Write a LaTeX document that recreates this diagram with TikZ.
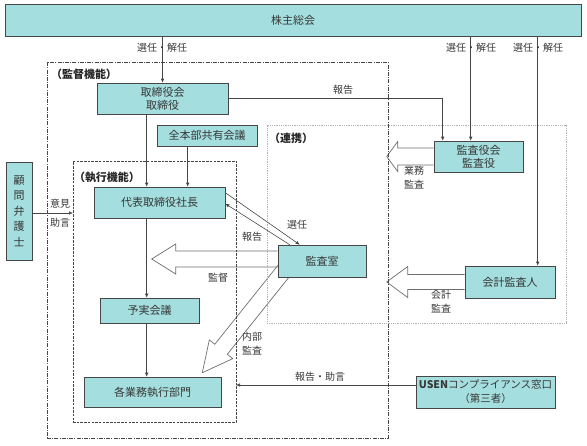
\documentclass[tikz,border=0pt]{standalone}
\usepackage{fontspec}
\setmainfont{Noto Sans CJK JP}
\usetikzlibrary{arrows.meta,calc,backgrounds}
\definecolor{boxfill}{RGB}{165,222,222}
\definecolor{txt}{RGB}{55,55,55}
\definecolor{edge}{RGB}{70,70,70}
\definecolor{hol}{RGB}{110,110,110}
\begin{document}
\begin{tikzpicture}[x=1pt,y=-1pt,
 box/.style={draw=edge,line width=0.6pt,fill=boxfill,text=txt,inner sep=0pt,align=center,font=\fontsize{11}{13}\selectfont},
 conn/.style={draw=edge,line width=0.6pt,-{Latex[length=4pt,width=3.6pt]}},
 lbl/.style={text=txt,inner sep=0pt,align=center,font=\fontsize{10}{14}\selectfont},
 ttl/.style={text=black!85,inner sep=0pt,font=\fontsize{11}{13}\selectfont\bfseries},
 hollow/.style={draw=hol,line width=0.7pt},
 frame/.style={inner sep=0pt,outer sep=0pt}
 ]
\useasboundingbox (0,0) rectangle (587,445);
% frames
\node[frame,draw=edge,line width=0.7pt,dash pattern=on 4pt off 1.2pt on 1pt off 1.2pt,minimum width=341pt,minimum height=376pt] (kantoku) at (217.5,250) {};
\node[frame,draw=edge,line width=0.8pt,dash pattern=on 2.5pt off 1.2pt,minimum width=163pt,minimum height=261pt] (shikko) at (154.5,291.5) {};
\node[frame,draw=gray!60,line width=0.8pt,densely dotted,minimum width=299pt,minimum height=198pt] (renkei) at (416.5,224) {};
\node[ttl] (tkantoku) at (84,74) {（監督機能）};
\node[ttl] (tshikko) at (107,177) {（執行機能）};
\node[ttl] (trenkei) at (291,138) {（連携）};
% boxes
\node[box,minimum width=576pt,minimum height=32pt] (kabunushi) at (293,20) {株主総会};
\node[box,minimum width=131pt,minimum height=31pt] (torishimari) at (162.5,98.5) {取締役会\\取締役};
\node[box,minimum width=100pt,minimum height=21pt] (zenhonbu) at (207,135.5) {全本部共有会議};
\node[box,minimum width=131pt,minimum height=31pt] (daihyo) at (159.5,202.5) {代表取締役社長};
\node[box,minimum width=26pt,minimum height=98pt,font=\fontsize{11}{15.5}\selectfont] (komon) at (19,211) {顧\\問\\弁\\護\\士};
\node[box,minimum width=89pt,minimum height=31pt] (kansayakukai) at (478.5,156.5) {監査役会\\監査役};
\node[box,minimum width=88pt,minimum height=32pt] (kansashitsu) at (322,261) {監査室};
\node[box,minimum width=90pt,minimum height=32pt] (kaikei) at (510,282) {会計監査人};
\node[box,minimum width=99pt,minimum height=25pt] (yojitsu) at (149.5,310.5) {予実会議};
\node[box,minimum width=137pt,minimum height=30pt] (kakugyomu) at (152.5,392) {各業務執行部門};
\node[box,minimum width=139pt,minimum height=32pt,font=\fontsize{10.5}{14}\selectfont] (usen) at (485.5,392) {\textbf{USEN}コンプライアンス窓口\\（第三者）};
% hollow arrows (behind boxes)
\begin{pgfonlayer}{background}
\draw[hollow] ($(kansayakukai.west)+(0,-8.5)$) -- ++(-36,0) -- ++(0,-6.5) -- ++(-11,15) -- ++(11,15) -- ++(0,-6.5) -- ++(36,0);
\draw[hollow] ($(kansashitsu.west)+(0,-10)$) -- ++(-102,0) -- ++(0,-7) -- ++(-24,15) -- ++(24,15) -- ++(0,-7) -- ++(102,0);
\draw[hollow] ($(kaikei.west)+(0,-7.5)$) -- ++(-57,0) -- ++(0,-8) -- ++(-21,15.5) -- ++(21,15.5) -- ++(0,-8) -- ++(57,0);
\coordinate (dtip) at ($(kakugyomu.north east)+(-19,-4)$);
\begin{scope}[shift={(dtip)},rotate=51.34]
\draw[hollow] (135,-8) -- (30,-8) -- (30,-15) -- (0,0) -- (30,15) -- (30,8) -- (135,8);
\end{scope}
\end{pgfonlayer}
% connectors
\draw[conn] (kabunushi.south -| torishimari.north) -- (torishimari.north);
\coordinate (kyin) at ($(kansayakukai.north west)+(37,0)$);
\draw[conn] (kabunushi.south -| kyin) -- (kyin);
\coordinate (kkin) at ($(kaikei.north west)+(73,0)$);
\draw[conn] (kabunushi.south -| kkin) -- (kkin);
\coordinate (kyrep) at ($(kansayakukai.north west)+(9,0)$);
\draw[conn] (torishimari.east) -- (torishimari.east -| kyrep) -- (kyrep);
\coordinate (t1) at ($(torishimari.south west)+(50,0)$);
\draw[conn] (t1) -- (t1 |- daihyo.north);
\coordinate (z1) at ($(zenhonbu.south west)+(31,0)$);
\draw[conn] (z1) -- (z1 |- daihyo.north);
\draw[conn] (t1 |- daihyo.south) -- (t1 |- yojitsu.north);
\draw[conn] (t1 |- yojitsu.south) -- (t1 |- kakugyomu.north);
\coordinate (k1) at ($(komon.east)+(0,2)$);
\draw[conn] (k1) -- (k1 -| shikko.west);
\coordinate (u1) at ($(usen.west)+(0,-7)$);
\draw[conn] (u1) -- (u1 -| shikko.east);
\draw[conn] ($(daihyo.north east)+(0,6)$) -- ($(kansashitsu.north west)+(22,0)$);
\draw[conn] ($(kansashitsu.north west)+(12,0)$) -- ($(daihyo.north east)+(0,17)$);
% labels
\node[lbl] (l1) at (162,48) {選任・解任};
\node[lbl] (l2) at (471,48) {選任・解任};
\node[lbl] (l3) at (538,48) {選任・解任};
\node[lbl] (l4) at (343,90) {報告};
\node[lbl] (l5) at (414,178) {業務\\監査};
\node[lbl] (l6) at (218,278) {監督};
\node[lbl] (l7) at (441,302) {会計\\監査};
\node[lbl] (l8) at (297,225) {選任};
\node[lbl] (l9) at (252,237) {報告};
\node[lbl] (l10) at (252,344) {内部\\監査};
\node[lbl] (l11) at (320,377) {報告・助言};
\node[lbl] (l12) at (60,204) {意見};
\node[lbl] (l13) at (60,223) {助言};
\end{tikzpicture}
\end{document}
